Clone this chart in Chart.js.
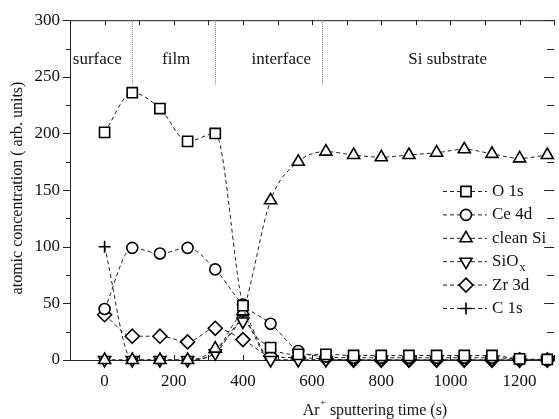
<!DOCTYPE html>
<html><head><meta charset="utf-8">
<script src="https://cdn.jsdelivr.net/npm/chart.js@4/dist/chart.umd.min.js"></script>
<style>html,body{margin:0;padding:0;overflow:hidden;background:#fff}canvas{display:block}</style>
</head><body>
<canvas id="c" width="563" height="419"></canvas>
<script>
// ---- data ----
const times = [0,80,160,240,320,400,480,560,640,720,800,880,960,1040,1120,1200,1280];
const o1s     = [201,236,222,193,200,48,11,5,5,4,4,4,4,4,4,1,0.5];
const ce4d    = [45,99,94,99,80,49,32,8,3,2,2,2,2,2,2,1,0];
const cleanSi = [0,0,0,0,10,43,141,175,184,181,179,181,183,186,182,178,181];
const siox    = [0,0,0,0,6,34,0,0,0,0,0,0,0,0,0,0,0];
const zr3d    = [40,21,21,16,28,18,3.5,2,1,0,0,0,0,0,0,0,0];
const c1s     = [100,0,0,0,7,39,0,0,0,0,0,0,0,0,0,0,0];
const seriesNames = ['O 1s','Ce 4d','clean Si','SiOx','Zr 3d','C 1s'];
const xTickLabels = [0,200,400,600,800,1000,1200];
const yTickLabels = [0,50,100,150,200,250,300];
const regionNames = ['surface','film','interface','Si substrate'];
const regionBounds = [80,320,630];

const FONT = '"Liberation Serif","Times New Roman",serif';
const seriesValues = [o1s,ce4d,cleanSi,siox,zr3d,c1s];
const styles = [
  {ps:'rect',rot:0,r:7.2},
  {ps:'circle',rot:0,r:5.5},
  {ps:'triangle',rot:0,r:7},
  {ps:'triangle',rot:180,r:7},
  {ps:'rectRot',rot:0,r:7},
  {ps:'cross',rot:0,r:6}
];
const datasets = seriesValues.map((vals,i)=>({
  label: seriesNames[i],
  data: times.map((t,j)=>({x:t,y:vals[j]})),
  borderColor:'#222', borderWidth:1, borderDash:[4,3],
  cubicInterpolationMode:'monotone',
  pointStyle: styles[i].ps, rotation: styles[i].rot, pointRadius: styles[i].r,
  pointBorderColor:'#000', pointBackgroundColor:'#fff', pointBorderWidth:1.6,
  clip:false, fill:false
}));

const framePlugin = {
  id:'frame',
  beforeDatasetsDraw(chart){
    const {ctx, chartArea:a, scales:{x,y}} = chart;
    ctx.save();
    ctx.strokeStyle='#222'; ctx.lineWidth=1; ctx.setLineDash([]);
    ctx.beginPath();
    ctx.moveTo(a.left+0.5,a.bottom); ctx.lineTo(a.left+0.5,a.top+0.5); ctx.lineTo(a.right,a.top+0.5);
    ctx.moveTo(a.left,a.bottom+0.5); ctx.lineTo(a.right,a.bottom+0.5);
    ctx.stroke();
    ctx.beginPath();
    for(let v=-100; v<=1300; v+=100){
      const px=Math.round(x.getPixelForValue(v))+0.5;
      ctx.moveTo(px,a.top); ctx.lineTo(px,a.top+5);
      ctx.moveTo(px,a.bottom); ctx.lineTo(px,a.bottom-5);
    }
    for(let v=0; v<=300; v+=25){
      const py=Math.round(y.getPixelForValue(v))+0.5;
      const len = v%50===0?7:4;
      ctx.moveTo(a.left,py); ctx.lineTo(a.left-len,py);
      ctx.moveTo(a.right,py); ctx.lineTo(a.right-len-3,py);
    }
    ctx.stroke();
    // region dividers
    ctx.strokeStyle='#777'; ctx.setLineDash([1,1]);
    ctx.beginPath();
    regionBounds.forEach(b=>{
      const px=Math.round(x.getPixelForValue(b))+0.5;
      ctx.moveTo(px,a.top); ctx.lineTo(px,y.getPixelForValue(243));
    });
    ctx.stroke();
    ctx.restore();
  },
  afterDraw(chart){
    const {ctx, chartArea:a, scales:{x,y}} = chart;
    ctx.save();
    ctx.fillStyle='#111';
    ctx.font='17px '+FONT;
    ctx.textAlign='center'; ctx.textBaseline='middle';
    const regionCenters=[-21,207,511,992];
    regionNames.forEach((n,i)=>ctx.fillText(n, x.getPixelForValue(regionCenters[i]), y.getPixelForValue(265)));
    // legend
    const lx0=443, lx1=487, mx=466, tx=492;
    chart.data.datasets.forEach((ds,i)=>{
      const yy = 191.5 + i*23.4;
      ctx.strokeStyle='#222'; ctx.lineWidth=1; ctx.setLineDash([4,3]);
      ctx.beginPath(); ctx.moveTo(lx0,yy); ctx.lineTo(lx1,yy); ctx.stroke();
      ctx.setLineDash([]);
      ctx.strokeStyle='#000'; ctx.fillStyle='#fff'; ctx.lineWidth=1.6;
      Chart.helpers.drawPoint(ctx,{pointStyle:ds.pointStyle,rotation:ds.rotation,radius:ds.pointRadius,borderWidth:1.6},mx,yy);
      ctx.fillStyle='#111'; ctx.textAlign='left'; ctx.textBaseline='middle';
      ctx.font='17px '+FONT;
      if(ds.label==='SiOx'){
        ctx.fillText('SiO',tx,yy);
        const w=ctx.measureText('SiO').width;
        ctx.font='12px '+FONT;
        ctx.fillText('x',tx+w+1,yy+6);
      } else ctx.fillText(ds.label,tx,yy);
    });
    // x title
    ctx.textBaseline='alphabetic'; ctx.textAlign='left';
    const p1='Ar', p3=' sputtering time (s)';
    ctx.font='16px '+FONT; const w1=ctx.measureText(p1).width, w3=ctx.measureText(p3).width;
    ctx.font='11px '+FONT; const w2=ctx.measureText('+').width;
    let sx = 375 - (w1+w2+w3)/2;
    ctx.font='16px '+FONT; ctx.fillText(p1,sx,415);
    ctx.font='11px '+FONT; ctx.fillText('+',sx+w1,406);
    ctx.font='16px '+FONT; ctx.fillText(p3,sx+w1+w2,415);
    // y title
    ctx.translate(18,188); ctx.rotate(-Math.PI/2);
    ctx.textAlign='center'; ctx.textBaseline='middle';
    ctx.fillText('atomic concentration ( arb. units)',0,0);
    ctx.restore();
  }
};

new Chart(document.getElementById('c'),{
  type:'line',
  data:{datasets},
  options:{
    responsive:false, animation:false, devicePixelRatio:1,
    layout:{padding:{left:0,top:18,right:2,bottom:0}},
    plugins:{legend:{display:false},tooltip:{enabled:false}},
    scales:{
      x:{type:'linear',min:-100,max:1300,
        afterBuildTicks(s){ s.ticks = xTickLabels.map(v=>({value:v})); },
        afterFit(s){ s.height=59; },
        grid:{display:false,drawTicks:false}, border:{display:false},
        ticks:{font:{family:FONT,size:17},color:'#111',padding:11,maxRotation:0,autoSkip:false,
          callback:v=>String(v)}
      },
      y:{type:'linear',min:0,max:300,
        afterBuildTicks(s){ s.ticks = yTickLabels.map(v=>({value:v})); },
        afterFit(s){ s.width=70; },
        grid:{display:false,drawTicks:false}, border:{display:false},
        ticks:{font:{family:FONT,size:17},color:'#111',padding:10,autoSkip:false,
          callback:v=>String(v)}
      }
    }
  },
  plugins:[framePlugin]
});
</script>
</body></html>
